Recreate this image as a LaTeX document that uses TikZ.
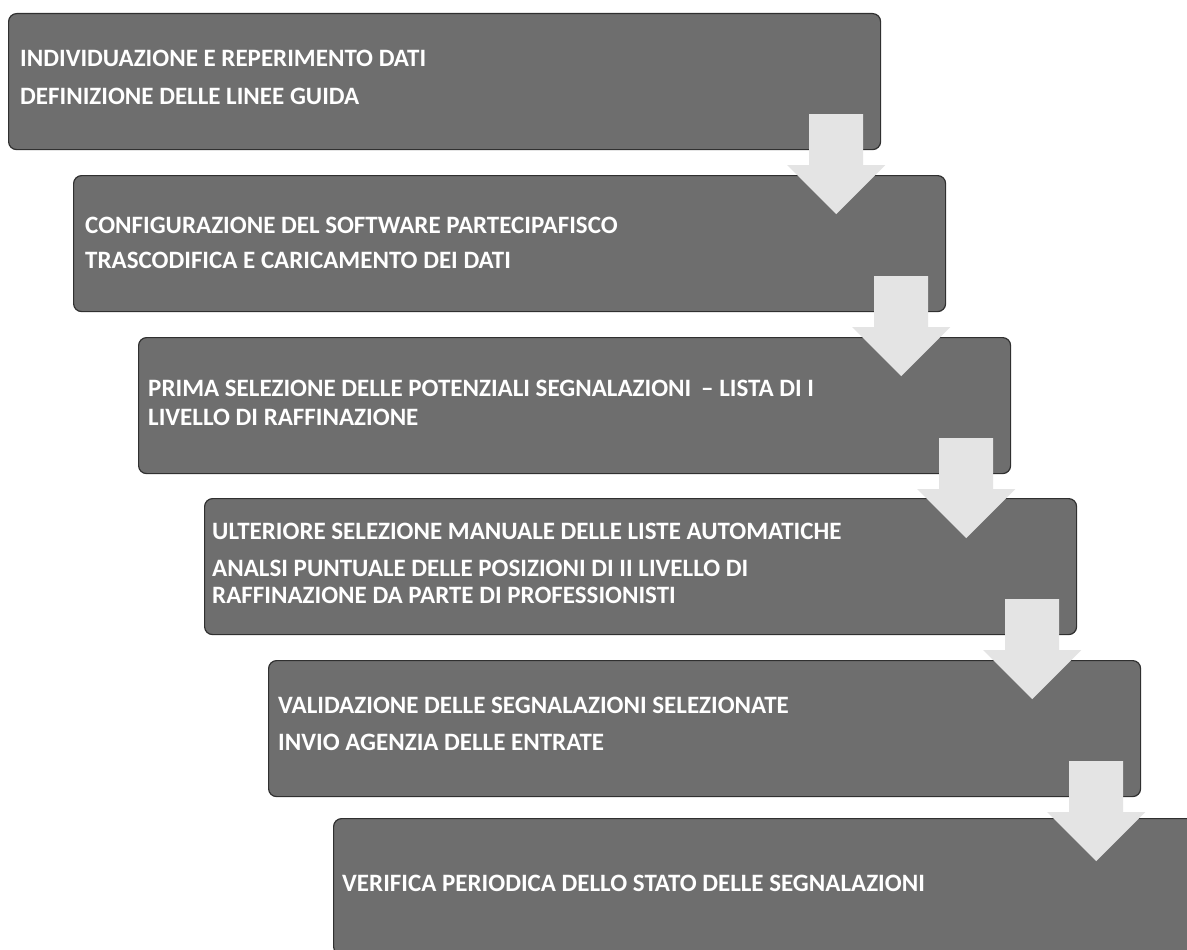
\documentclass[tikz,border=0pt]{standalone}
\usepackage{fontspec}
\setmainfont{Carlito}
\usetikzlibrary{calc}
\definecolor{boxfill}{HTML}{6E6E6E}
\definecolor{boxline}{HTML}{303030}
\definecolor{arrowfill}{HTML}{E4E4E4}
\tikzset{
  stepbox/.style={draw=boxline, line width=1.2pt, fill=boxfill, rounded corners=8pt,
    minimum width=872pt, minimum height=136pt, anchor=north west, inner sep=0pt},
  steptext/.style={anchor=north west, inner sep=0pt, align=left, text=white,
    font=\fontsize{25}{27}\selectfont\bfseries},
  blockarrow/.style={fill=arrowfill, draw=none},
}
\newcommand{\downarrowfrom}[1]{%
  \fill[blockarrow] ($(#1.south east)+(-45,0)$) coordinate (c#1)
    ($(c#1)+(-27,-36)$) -- ($(c#1)+(27,-36)$) -- ($(c#1)+(27,15)$) -- ($(c#1)+(49,15)$)
    -- ($(c#1)+(0,64)$) -- ($(c#1)+(-49,15)$) -- ($(c#1)+(-27,15)$) -- cycle;}
\begin{document}
\begin{tikzpicture}[x=1pt, y=-1pt]
\clip (0,0) rectangle (1187,950);
\fill[white] (0,0) rectangle (1187,950);
\node[stepbox] (b1) at (8,13) {};
\node[stepbox] (b2) at (73,175) {};
\node[stepbox] (b3) at (138,337) {};
\node[stepbox] (b4) at (204,498) {};
\node[stepbox] (b5) at (268,660) {};
\node[stepbox] (b6) at (333,818) {};
\downarrowfrom{b1}
\downarrowfrom{b2}
\downarrowfrom{b3}
\downarrowfrom{b4}
\downarrowfrom{b5}
\node[steptext] (t1) at (20,50) {INDIVIDUAZIONE E REPERIMENTO DATI\\[11pt]DEFINIZIONE DELLE LINEE GUIDA};
\node[steptext] (t2) at (85,217) {CONFIGURAZIONE DEL SOFTWARE PARTECIPAFISCO\\[8pt]TRASCODIFICA E CARICAMENTO DEI DATI};
\node[steptext] (t3) at (148,380) {PRIMA SELEZIONE DELLE POTENZIALI SEGNALAZIONI \,– LISTA DI I\\[2pt]LIVELLO DI RAFFINAZIONE};
\node[steptext] (t4) at (212,523) {ULTERIORE SELEZIONE MANUALE DELLE LISTE AUTOMATICHE\\[10pt]ANALSI PUNTUALE DELLE POSIZIONI DI II LIVELLO DI\\RAFFINAZIONE DA PARTE DI PROFESSIONISTI};
\node[steptext] (t5) at (278,697) {VALIDAZIONE DELLE SEGNALAZIONI SELEZIONATE\\[10pt]INVIO AGENZIA DELLE ENTRATE};
\node[steptext] (t6) at (342,875) {VERIFICA PERIODICA DELLO STATO DELLE SEGNALAZIONI};
\end{tikzpicture}
\end{document}
